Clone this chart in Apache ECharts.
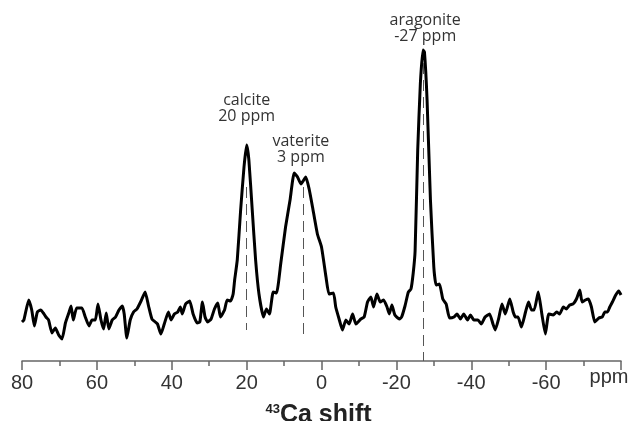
<!DOCTYPE html>
<html>
<head>
<meta charset="utf-8">
<script src="https://cdn.jsdelivr.net/npm/echarts@6/dist/echarts.min.js"></script>
<style>html,body{margin:0;padding:0;background:#fff;}#c{width:632px;height:421px;}</style>
</head>
<body>
<div id="c"></div>
<script>
// chemical shift (ppm) and intensity (arbitrary units)
var shiftPpm = [80.0,79.5,78.2,77.4,76.7,75.9,75.0,74.3,73.6,72.9,72.0,71.1,70.2,69.3,68.4,67.5,66.9,66.3,65.4,64.0,63.1,62.1,61.3,60.4,59.7,58.9,58.2,57.5,56.8,55.9,55.0,54.1,53.2,52.7,52.0,51.1,50.2,49.3,48.2,47.1,46.2,45.3,44.4,43.8,42.9,42.0,40.9,40.2,39.3,38.4,37.7,37.2,36.3,35.2,34.3,33.2,32.5,31.8,31.1,30.4,29.5,28.6,27.7,27.0,25.9,25.2,24.3,23.6,23.2,22.5,21.6,20.7,20.0,19.4,18.5,17.6,16.7,15.5,14.7,13.9,12.9,12.0,10.9,9.6,8.4,7.3,6.4,5.5,4.2,3.3,2.4,1.1,0.0,-1.2,-2.0,-3.2,-3.8,-4.7,-5.6,-6.5,-7.4,-8.3,-9.2,-10.5,-11.4,-12.3,-13.2,-13.9,-14.8,-15.7,-16.6,-17.5,-18.1,-18.8,-19.6,-20.8,-21.4,-22.3,-23.2,-23.9,-24.5,-25.0,-25.7,-26.4,-27.1,-27.5,-28.2,-29.1,-30.0,-30.6,-31.5,-32.4,-33.3,-34.2,-35.4,-36.2,-37.1,-38.0,-39.0,-39.8,-40.7,-41.8,-42.7,-43.7,-44.9,-45.8,-46.4,-47.3,-48.2,-49.1,-50.3,-51.2,-51.8,-52.5,-53.4,-54.5,-55.3,-56.1,-56.8,-57.9,-58.9,-59.8,-60.7,-61.9,-62.8,-63.6,-64.6,-65.4,-66.3,-67.2,-68.1,-69.0,-69.6,-70.5,-71.3,-72.1,-73.0,-74.1,-75.0,-75.7,-76.4,-77.0,-77.7,-78.6,-79.4,-80.0];
var intensity = [39,41,61,51,35,49,51,48,44,41,28,33,26,22,38,48,55,41,53,53,44,35,41,41,57,41,32,48,32,41,44,51,55,47,23,41,49,52,60,69,55,42,39,37,27,37,49,41,47,49,54,47,57,60,47,38,39,59,44,39,42,52,58,44,51,61,60,67,81,101,151,194,216,201,151,101,67,44,52,47,69,68,97,134,161,188,184,177,184,172,154,127,114,84,67,68,54,42,31,41,37,47,37,42,44,59,64,54,67,59,61,54,47,56,46,42,44,55,69,72,88,110,211,277,311,309,261,161,94,76,77,62,57,43,44,47,42,47,41,46,41,41,37,44,47,37,31,42,57,47,62,49,44,44,34,49,59,51,51,69,46,27,47,46,49,47,54,52,56,57,62,71,59,61,62,54,39,43,44,49,49,54,59,66,70,66];

// reference lines for the phases
var refPpm = [20, 5, -27.2];
var refTop = [174, 174, 298];
var refBottom = [31, 23, 0];

// phase labels
var labelText = ['calcite\n20 ppm', 'vaterite\n3 ppm', 'aragonite\n-27 ppm'];
var labelPpm = [20, 5.5, -27.7];
var labelY = [253, 212, 333];

var tickMin = -80, tickMax = 80, tickStep = 20;
var yMax = 361;

var seriesData = shiftPpm.map(function (x, i) { return [x, intensity[i]]; });
var refLines = refPpm.map(function (x, i) { return [{coord: [x, refTop[i]]}, {coord: [x, refBottom[i]]}]; });
var labels = labelText.map(function (t, i) { return {name: t, coord: [labelPpm[i], labelY[i]]}; });

var chart = echarts.init(document.getElementById('c'), null, {renderer: 'canvas'});
chart.setOption({
  animation: false,
  backgroundColor: '#fff',
  grid: {left: 22, right: 11, top: 0, bottom: 60, containLabel: false, outerBoundsMode: 'none'},
  xAxis: {
    type: 'value', inverse: true, min: tickMin, max: tickMax, interval: tickStep,
    axisLine: {lineStyle: {color: '#666', width: 1.5}},
    axisTick: {length: 9, lineStyle: {color: '#666', width: 1.5}},
    minorTick: {show: true, splitNumber: 2, length: 5, lineStyle: {color: '#666', width: 1.5}},
    splitLine: {show: false}, minorSplitLine: {show: false},
    axisLabel: {
      fontSize: 20, color: '#333', margin: 12, fontFamily: 'Liberation Sans',
      showMinLabel: true, showMaxLabel: true,
      formatter: function (v) { return v === tickMin ? '{p|ppm}' : String(v); },
      rich: {p: {fontSize: 20, color: '#333', fontFamily: 'Liberation Sans', lineHeight: 8, padding: [0, 24, 0, 0]}}
    },
    name: '{sup|43}{main|Ca shift}', nameLocation: 'middle', nameGap: 42,
    nameTextStyle: {
      rich: {
        sup: {fontSize: 13, fontWeight: 'bold', color: '#222', fontFamily: 'Liberation Sans', verticalAlign: 'top', lineHeight: 14},
        main: {fontSize: 25, fontWeight: 'bold', color: '#222', fontFamily: 'Liberation Sans', lineHeight: 25, padding: [0, 6, 0, 0]}
      }
    }
  },
  yAxis: {type: 'value', show: false, min: 0, max: yMax},
  series: [{
    type: 'line', data: seriesData, symbol: 'none', smooth: 0.15,
    lineStyle: {color: '#000', width: 3, join: 'round'},
    markLine: {
      silent: true, symbol: ['none', 'none'], label: {show: false},
      lineStyle: {type: [11, 6], color: '#555', width: 1},
      data: refLines
    },
    markPoint: {
      symbol: 'circle', symbolSize: 0, silent: true,
      label: {show: true, position: 'inside', formatter: function (p) { return p.name; },
        fontFamily: 'Open Sans', fontSize: 16, lineHeight: 16, color: '#333', align: 'center', verticalAlign: 'middle'},
      data: labels
    }
  }]
});
</script>
</body>
</html>
